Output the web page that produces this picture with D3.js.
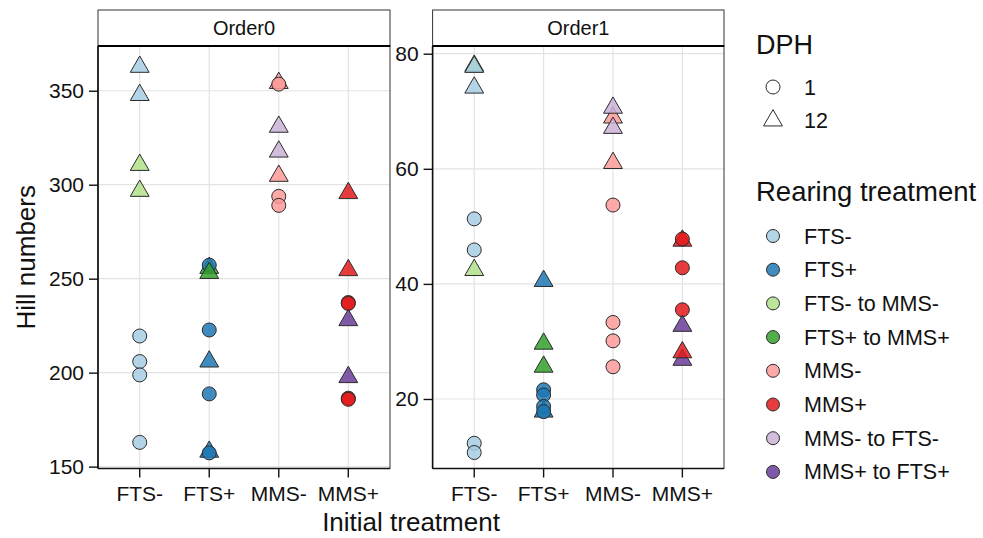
<!DOCTYPE html>
<html lang="en">
<head>
  <meta charset="UTF-8" />
  <title>Hill numbers</title>
  <script src="https://d3js.org/d3.v7.min.js"></script>
  <style>
    body { margin: 0; background: #fff; }
    svg { display: block; font-family: 'Liberation Sans', Arial, sans-serif; }
  </style>
</head>
<body>
  <svg id="chart" width="983" height="538"></svg>
  <script>
    const initial = ["FTS-", "FTS+", "MMS-", "MMS+"];
    const rearing = ["FTS-", "FTS+", "FTS- to MMS-", "FTS+ to MMS+", "MMS-", "MMS+", "MMS- to FTS-", "MMS+ to FTS+"];
    const palette = ["#A6CEE3", "#1F78B4", "#B2DF8A", "#33A02C", "#FB9A99", "#E31A1C", "#CAB2D6", "#6A3D9A"];
    const dph = ["1", "12"];
    const panels = ["Order0", "Order1"];
    const yTicks0 = [150, 200, 250, 300, 350];
    const yTicks1 = [20, 40, 60, 80];

    // [initial treatment, rearing treatment, DPH, value]
    const order0 = [
      ["FTS-", "FTS-", "12", 362.7], ["FTS-", "FTS-", "12", 347.7],
      ["FTS-", "FTS- to MMS-", "12", 310.5], ["FTS-", "FTS- to MMS-", "12", 296.7],
      ["FTS-", "FTS-", "1", 219.5], ["FTS-", "FTS-", "1", 205.9], ["FTS-", "FTS-", "1", 198.8], ["FTS-", "FTS-", "1", 162.9],
      ["FTS+", "FTS+ to MMS+", "12", 255.7], ["FTS+", "FTS+", "1", 257.2],
      ["FTS+", "FTS+ to MMS+", "12", 253.0],
      ["FTS+", "FTS+", "1", 222.7], ["FTS+", "FTS+", "12", 205.9], ["FTS+", "FTS+", "1", 188.7],
      ["FTS+", "FTS+", "12", 157.9], ["FTS+", "FTS+", "1", 157.3],
      ["MMS-", "MMS-", "12", 354.1], ["MMS-", "MMS-", "1", 353.5],
      ["MMS-", "MMS- to FTS-", "12", 330.8], ["MMS-", "MMS- to FTS-", "12", 317.6],
      ["MMS-", "MMS-", "12", 304.7], ["MMS-", "MMS-", "1", 293.8], ["MMS-", "MMS-", "1", 289.0],
      ["MMS+", "MMS+", "12", 295.5], ["MMS+", "MMS+", "12", 254.5],
      ["MMS+", "MMS+", "1", 237.3], ["MMS+", "MMS+", "1", 236.8], ["MMS+", "MMS+ to FTS+", "12", 227.9],
      ["MMS+", "MMS+ to FTS+", "12", 197.6], ["MMS+", "MMS+", "1", 186.4], ["MMS+", "MMS+", "1", 185.8]
    ];
    const order1 = [
      ["FTS-", "FTS- to MMS-", "12", 77.9], ["FTS-", "FTS-", "12", 77.7], ["FTS-", "FTS-", "12", 74.1],
      ["FTS-", "FTS-", "1", 51.3], ["FTS-", "FTS-", "1", 45.9], ["FTS-", "FTS- to MMS-", "12", 42.4],
      ["FTS-", "FTS-", "1", 12.3], ["FTS-", "FTS-", "1", 10.7],
      ["FTS+", "FTS+", "12", 40.5], ["FTS+", "FTS+ to MMS+", "12", 29.6], ["FTS+", "FTS+ to MMS+", "12", 25.6],
      ["FTS+", "FTS+", "1", 21.6], ["FTS+", "FTS+", "1", 20.7], ["FTS+", "FTS+", "12", 17.8],
      ["FTS+", "FTS+", "1", 18.7], ["FTS+", "FTS+", "1", 17.8],
      ["MMS-", "MMS-", "12", 68.9], ["MMS-", "MMS- to FTS-", "12", 70.6], ["MMS-", "MMS- to FTS-", "12", 67.1],
      ["MMS-", "MMS-", "12", 61.0], ["MMS-", "MMS-", "1", 53.7],
      ["MMS-", "MMS-", "1", 33.3], ["MMS-", "MMS-", "1", 30.1], ["MMS-", "MMS-", "1", 25.6],
      ["MMS+", "MMS+", "12", 47.5], ["MMS+", "MMS+", "1", 47.8],
      ["MMS+", "MMS+", "1", 42.8], ["MMS+", "MMS+", "1", 35.5], ["MMS+", "MMS+ to FTS+", "12", 32.7],
      ["MMS+", "MMS+ to FTS+", "12", 26.8], ["MMS+", "MMS+", "12", 28.1]
    ];

    const svg = d3.select("#chart");
    const color = d3.scaleOrdinal().domain(rearing).range(palette);
    const panelTop = 46, panelBottom = 468.5, stripTop = 10;
    const r = 7;

    // R's pch 24 triangle, centred on the data point
    function triangle(s) {
      const t = 1.5551 * s, b = 0.7776 * s, h = 1.3468 * s;
      return `M0,${-t}L${h},${b}L${-h},${b}Z`;
    }

    function drawPoint(g, x, y, fill, opacity) {
      const m = g.append(fill.shape === "1" ? "circle" : "path");
      if (fill.shape === "1") m.attr("cx", x).attr("cy", y).attr("r", r);
      else m.attr("d", triangle(r)).attr("transform", `translate(${x},${y})`);
      m.attr("fill", fill.color).attr("fill-opacity", opacity)
        .attr("stroke", "#2b2b2b").attr("stroke-width", 1);
    }

    const specs = [
      { name: panels[0], data: order0, left: 98, right: 390, domain: [149, 373.8], ticks: yTicks0 },
      { name: panels[1], data: order1, left: 432.6, right: 724, domain: [7.92, 81.34], ticks: yTicks1 }
    ];

    specs.forEach(p => {
      const x = d3.scaleBand().domain(initial).range([p.left, p.right]).paddingOuter(0.1).paddingInner(0);
      const y = d3.scaleLinear().domain(p.domain).range([panelBottom, panelTop]);
      const xc = d => x(d) + x.bandwidth() / 2;
      const g = svg.append("g");

      // grid
      g.selectAll(".gy").data(p.ticks).enter().append("line")
        .attr("x1", p.left).attr("x2", p.right)
        .attr("y1", d => y(d)).attr("y2", d => y(d))
        .attr("stroke", "#e3e3e3").attr("stroke-width", 1.2);
      g.selectAll(".gx").data(initial).enter().append("line")
        .attr("x1", xc).attr("x2", xc).attr("y1", panelTop).attr("y2", panelBottom)
        .attr("stroke", "#e3e3e3").attr("stroke-width", 1.2);

      // points
      p.data.forEach(d => {
        drawPoint(g, xc(d[0]), y(d[3]), { shape: d[2], color: color(d[1]) }, 0.85);
      });

      // panel border + strip
      g.append("rect").attr("x", p.left).attr("y", panelTop).attr("width", p.right - p.left).attr("height", panelBottom - panelTop)
        .attr("fill", "none").attr("stroke", "#333").attr("stroke-width", 1);
      g.append("rect").attr("x", p.left).attr("y", stripTop).attr("width", p.right - p.left).attr("height", panelTop - stripTop)
        .attr("fill", "#fff").attr("stroke", "#333").attr("stroke-width", 1);
      g.append("line").attr("x1", p.left).attr("x2", p.right).attr("y1", panelTop).attr("y2", panelTop)
        .attr("stroke", "#000").attr("stroke-width", 2);
      g.append("text").attr("x", (p.left + p.right) / 2).attr("y", (stripTop + panelTop) / 2 + 7)
        .attr("text-anchor", "middle").attr("font-size", 20).attr("fill", "#111").text(p.name);

      // axes
      const ay = g.append("g").attr("transform", `translate(${p.left},0)`)
        .call(d3.axisLeft(y).tickValues(p.ticks).tickSize(9).tickPadding(5));
      const ax = g.append("g").attr("transform", `translate(0,${panelBottom})`)
        .call(d3.axisBottom(x).tickSize(9).tickPadding(9));
      [ay, ax].forEach(a => {
        a.select(".domain").attr("stroke", "#111").attr("stroke-width", 1.6);
        a.selectAll(".tick line").attr("stroke", "#111").attr("stroke-width", 1.4);
        a.selectAll(".tick text").attr("font-size", 21).attr("fill", "#111")
          .attr("font-family", "'Liberation Sans', Arial, sans-serif");
      });
      ax.select(".domain").attr("d", `M${p.left},0H${p.right}`);
      ay.select(".domain").attr("d", `M0,${panelTop}V${panelBottom}`);
    });

    // axis titles
    svg.append("text").attr("x", 411).attr("y", 531).attr("text-anchor", "middle")
      .attr("font-size", 26).attr("fill", "#111").text("Initial treatment");
    svg.append("text").attr("transform", `translate(35,${(panelTop + panelBottom) / 2}) rotate(-90)`)
      .attr("text-anchor", "middle").attr("font-size", 26).attr("fill", "#111").text("Hill numbers");

    // legends
    const lg = svg.append("g");
    lg.append("text").attr("x", 756).attr("y", 54).attr("font-size", 27).attr("fill", "#111").text("DPH");
    dph.forEach((s, i) => {
      const cy = 87 + i * 33.5;
      drawPoint(lg, 773, cy, { shape: s, color: "#fff" }, 1);
      lg.append("text").attr("x", 804).attr("y", cy + 7.5).attr("font-size", 21.5).attr("fill", "#111").text(s);
    });
    lg.append("text").attr("x", 756).attr("y", 201).attr("font-size", 27.5).attr("fill", "#111").text("Rearing treatment");
    rearing.forEach((s, i) => {
      const cy = 236 + i * 33.7;
      lg.append("circle").attr("cx", 773).attr("cy", cy).attr("r", 6.5)
        .attr("fill", color(s)).attr("fill-opacity", 0.85).attr("stroke", "#2b2b2b").attr("stroke-width", 1);
      lg.append("text").attr("x", 804).attr("y", cy + 7.5).attr("font-size", 21.5).attr("fill", "#111").text(s);
    });
  </script>
</body>
</html>
